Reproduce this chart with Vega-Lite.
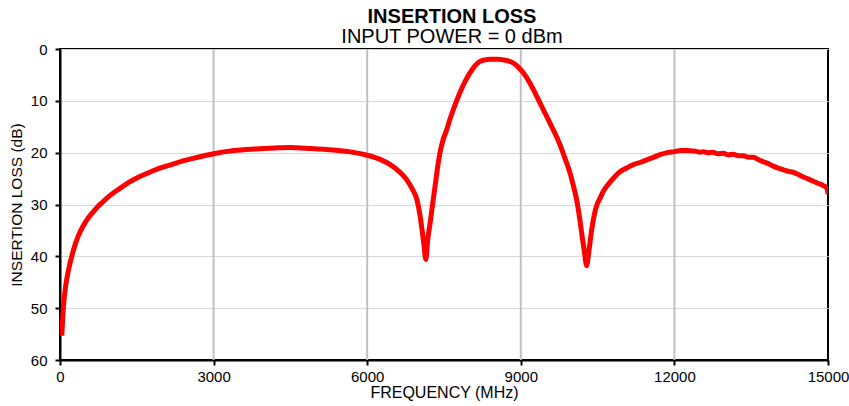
{
  "$schema": "https://vega.github.io/schema/vega-lite/v6.json",
  "autosize": {"type": "none"},
  "padding": {"left": 60, "top": 49, "right": 21, "bottom": 46},
  "width": 768,
  "height": 311,
  "background": "white",
  "title": {
    "text": "INSERTION LOSS",
    "subtitle": "INPUT POWER = 0 dBm",
    "anchor": "middle",
    "font": "Liberation Sans",
    "fontSize": 20,
    "fontWeight": "bold",
    "color": "black",
    "subtitleFont": "Liberation Sans",
    "subtitleFontSize": 20,
    "subtitleColor": "black",
    "subtitlePadding": 0,
    "offset": -5,
    "dx": 8
  },
  "config": {
    "view": {"stroke": "black", "strokeWidth": 2},
    "axis": {
      "labelFont": "Liberation Sans",
      "labelFontSize": 15,
      "labelColor": "black",
      "titleFont": "Liberation Sans",
      "titleFontSize": 15.5,
      "titleFontWeight": "normal",
      "titleColor": "black",
      "domainColor": "black",
      "domainWidth": 2,
      "tickColor": "black",
      "tickWidth": 2,
      "tickSize": 5
    }
  },
  "data": {
    "values": [
      {"f": 35, "il": 55.3}, {"f": 65, "il": 50}, {"f": 100, "il": 46.5}, {"f": 130, "il": 44.5},
      {"f": 180, "il": 42}, {"f": 230, "il": 40}, {"f": 300, "il": 37.6}, {"f": 360, "il": 36},
      {"f": 450, "il": 34.2}, {"f": 550, "il": 32.6}, {"f": 650, "il": 31.4}, {"f": 750, "il": 30.3},
      {"f": 880, "il": 29.1}, {"f": 1010, "il": 28}, {"f": 1170, "il": 26.9}, {"f": 1335, "il": 25.8},
      {"f": 1520, "il": 24.8}, {"f": 1725, "il": 23.9}, {"f": 1950, "il": 23.0}, {"f": 2180, "il": 22.3},
      {"f": 2400, "il": 21.6}, {"f": 2640, "il": 21.0}, {"f": 3000, "il": 20.2}, {"f": 3400, "il": 19.6},
      {"f": 3800, "il": 19.3}, {"f": 4200, "il": 19.1}, {"f": 4500, "il": 19.0}, {"f": 4900, "il": 19.2},
      {"f": 5330, "il": 19.5}, {"f": 5700, "il": 19.9}, {"f": 6000, "il": 20.5}, {"f": 6250, "il": 21.3},
      {"f": 6450, "il": 22.3}, {"f": 6620, "il": 23.6}, {"f": 6770, "il": 25.2}, {"f": 6880, "il": 27},
      {"f": 6970, "il": 29}, {"f": 7030, "il": 32}, {"f": 7070, "il": 34.8}, {"f": 7105, "il": 37.5},
      {"f": 7145, "il": 40.6}, {"f": 7180, "il": 37}, {"f": 7230, "il": 33.5}, {"f": 7290, "il": 29},
      {"f": 7325, "il": 26.5}, {"f": 7380, "il": 22.5}, {"f": 7422, "il": 20}, {"f": 7480, "il": 17.6},
      {"f": 7552, "il": 15.6}, {"f": 7617, "il": 13.5}, {"f": 7700, "il": 11.2}, {"f": 7812, "il": 8.4},
      {"f": 7910, "il": 6.3}, {"f": 8008, "il": 4.6}, {"f": 8100, "il": 3.3}, {"f": 8203, "il": 2.4},
      {"f": 8300, "il": 2.1}, {"f": 8400, "il": 2.0}, {"f": 8550, "il": 2.0}, {"f": 8660, "il": 2.1},
      {"f": 8760, "il": 2.3}, {"f": 8854, "il": 2.7}, {"f": 8950, "il": 3.5}, {"f": 9049, "il": 4.6},
      {"f": 9180, "il": 6.6}, {"f": 9280, "il": 8.5}, {"f": 9375, "il": 10.4}, {"f": 9470, "il": 12.3},
      {"f": 9570, "il": 14.3}, {"f": 9670, "il": 16.3}, {"f": 9766, "il": 18.5}, {"f": 9860, "il": 21},
      {"f": 9961, "il": 23.9}, {"f": 10030, "il": 26.5}, {"f": 10091, "il": 29.1}, {"f": 10140, "il": 32},
      {"f": 10189, "il": 35.5}, {"f": 10240, "il": 39}, {"f": 10286, "il": 41.8}, {"f": 10330, "il": 39},
      {"f": 10384, "il": 34.9}, {"f": 10440, "il": 31.8}, {"f": 10482, "il": 30.2}, {"f": 10547, "il": 28.8},
      {"f": 10610, "il": 27.5}, {"f": 10677, "il": 26.5}, {"f": 10742, "il": 25.7}, {"f": 10840, "il": 24.6},
      {"f": 10938, "il": 23.7}, {"f": 11060, "il": 23.0}, {"f": 11198, "il": 22.3}, {"f": 11330, "il": 21.9},
      {"f": 11458, "il": 21.4}, {"f": 11590, "il": 20.9}, {"f": 11719, "il": 20.4}, {"f": 11860, "il": 20.0},
      {"f": 12000, "il": 19.8}, {"f": 12120, "il": 19.6}, {"f": 12240, "il": 19.6}, {"f": 12400, "il": 19.7},
      {"f": 12500, "il": 19.9}, {"f": 12565, "il": 19.8}, {"f": 12650, "il": 20.0}, {"f": 12750, "il": 19.9},
      {"f": 12850, "il": 20.2}, {"f": 12955, "il": 20.1}, {"f": 13050, "il": 20.4}, {"f": 13150, "il": 20.3},
      {"f": 13250, "il": 20.6}, {"f": 13346, "il": 20.6}, {"f": 13450, "il": 20.9}, {"f": 13542, "il": 20.9},
      {"f": 13650, "il": 21.4}, {"f": 13750, "il": 21.8}, {"f": 13850, "il": 22.2}, {"f": 13932, "il": 22.6},
      {"f": 14030, "il": 23.0}, {"f": 14130, "il": 23.3}, {"f": 14230, "il": 23.6}, {"f": 14323, "il": 23.8},
      {"f": 14420, "il": 24.2}, {"f": 14520, "il": 24.7}, {"f": 14620, "il": 25.1}, {"f": 14714, "il": 25.5},
      {"f": 14800, "il": 25.9}, {"f": 14880, "il": 26.2}, {"f": 14950, "il": 26.6}, {"f": 14990, "il": 27.1},
      {"f": 15000, "il": 28.0}
    ]
  },
  "layer": [
    {
      "mark": {"type": "rule", "color": "#c0c0c0", "strokeWidth": 2},
      "data": {"values": [{"g": 3000}, {"g": 6000}, {"g": 9000}, {"g": 12000}]},
      "encoding": {
        "x": {"field": "g", "type": "quantitative", "scale": {"domain": [0, 15000]}}
      }
    },
    {
      "mark": {"type": "line", "color": "#ff0000", "strokeWidth": 5, "interpolate": "monotone", "clip": true},
      "encoding": {
        "x": {
          "field": "f", "type": "quantitative",
          "scale": {"domain": [0, 15000], "nice": false},
          "axis": {
            "title": "FREQUENCY (MHz)",
            "values": [0, 3000, 6000, 9000, 12000, 15000],
            "format": "d",
            "grid": false,
            "labelPadding": 4,
            "titlePadding": 0,
            "titleFontSize": 16,
            "labelFlush": false,
            "labelOverlap": false,
            "labelBound": false
          }
        },
        "y": {
          "field": "il", "type": "quantitative",
          "scale": {"domain": [0, 60], "reverse": true, "nice": false},
          "axis": {
            "title": "INSERTION LOSS (dB)",
            "values": [0, 10, 20, 30, 40, 50, 60],
            "grid": true,
            "gridColor": "#d9d9d9",
            "gridWidth": 1,
            "labelPadding": 8,
            "titlePadding": 6,
            "labelFlush": false,
            "labelOverlap": false
          }
        }
      }
    }
  ]
}
